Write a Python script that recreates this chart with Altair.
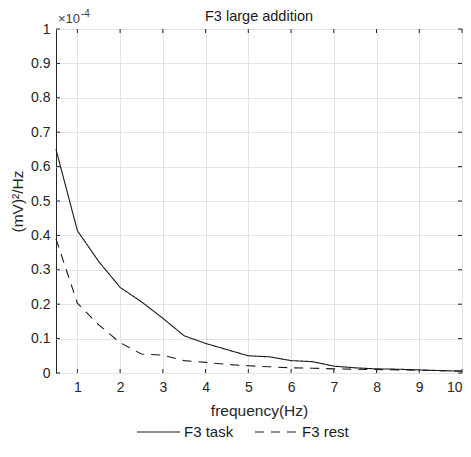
import altair as alt
import pandas as pd

# Frequency (Hz) and power spectral density (x 1e-4 (mV)^2/Hz)
freq = [0.5, 1, 1.5, 2, 2.5, 3, 3.5, 4, 4.5, 5, 5.5, 6, 6.5, 7, 7.5, 8, 8.5, 9, 9.5, 10]
task = [0.65, 0.414, 0.324, 0.249, 0.207, 0.159, 0.108, 0.086, 0.068, 0.05, 0.047,
        0.036, 0.033, 0.02, 0.015, 0.012, 0.011, 0.009, 0.007, 0.005]
rest = [0.39, 0.203, 0.14, 0.088, 0.055, 0.052, 0.036, 0.031, 0.025, 0.021, 0.018,
        0.015, 0.014, 0.012, 0.011, 0.01, 0.009, 0.008, 0.007, 0.006]
series_names = ["F3 task", "F3 rest"]
x_ticks = [1, 2, 3, 4, 5, 6, 7, 8, 9, 10]
y_ticks = [0, 0.1, 0.2, 0.3, 0.4, 0.5, 0.6, 0.7, 0.8, 0.9, 1]
title_text = "F3 large addition"
x_title = "frequency(Hz)"
y_title = "(mV)²/Hz"
exponent_base = "×10"
exponent_power = "-4"

rows = []
for f, v in zip(freq, task):
    rows.append({"freq": f, "value": v, "series": series_names[0]})
for f, v in zip(freq, rest):
    rows.append({"freq": f, "value": v, "series": series_names[1]})
df = pd.DataFrame(rows)

W, H = 406, 344
FONT = "Liberation Sans"
DARK = "#262626"
LINE = "#1a1a1a"
xs = alt.Scale(domain=[0.5, 10], nice=False, zero=False)
ys = alt.Scale(domain=[0, 1], nice=False)
dash_scale = alt.Scale(domain=series_names, range=[[1, 0], [9, 7]])

x_axis = alt.Axis(values=x_ticks, title=x_title, grid=True, ticks=False,
                  domain=False, labelPadding=7, titlePadding=9,
                  format="d", labelFlush=True, labelOverlap=False)
y_axis = alt.Axis(values=y_ticks, title=y_title, grid=True, ticks=False,
                  domain=False, labelPadding=6, titlePadding=5,
                  labelOverlap=False, tickCount=11,
                  labelExpr="format(datum.value, '~g')")

lines = alt.Chart(df).mark_line(strokeWidth=1.1, color=LINE).encode(
    x=alt.X("freq:Q", scale=xs, axis=x_axis),
    y=alt.Y("value:Q", scale=ys, axis=y_axis),
    strokeDash=alt.StrokeDash("series:N", scale=dash_scale, legend=None),
    detail="series:N",
)

xt = pd.DataFrame({"freq": x_ticks})
yt = pd.DataFrame({"value": y_ticks})
tick_bottom = alt.Chart(xt).mark_rule(color=DARK).encode(
    x=alt.X("freq:Q", scale=xs, axis=x_axis), y=alt.value(H), y2=alt.value(H - 4))
tick_top = alt.Chart(xt).mark_rule(color=DARK).encode(
    x=alt.X("freq:Q", scale=xs, axis=x_axis), y=alt.value(0), y2=alt.value(4))
tick_left = alt.Chart(yt).mark_rule(color=DARK).encode(
    y=alt.Y("value:Q", scale=ys, axis=y_axis), x=alt.value(0), x2=alt.value(4))
tick_right = alt.Chart(yt).mark_rule(color=DARK).encode(
    y=alt.Y("value:Q", scale=ys, axis=y_axis), x=alt.value(W), x2=alt.value(W - 4))

# legend (below the x-axis title), built from the series names
legend_df = pd.DataFrame({"series": series_names})
LEG_Y = 403
leg_layers = []
for i, (x0, xl) in enumerate([(81, 128), (199, 246)]):
    base = alt.Chart(legend_df).transform_filter(
        alt.datum.series == series_names[i])
    leg_layers.append(base.mark_rule(strokeWidth=1.1, color=LINE).encode(
        strokeDash=alt.StrokeDash("series:N", scale=dash_scale, legend=None),
        x=alt.value(x0), x2=alt.value(x0 + 43), y=alt.value(LEG_Y)))
    leg_layers.append(base.mark_text(
        align="left", baseline="middle", font=FONT, fontSize=15, color=LINE
    ).encode(text="series:N", x=alt.value(xl), y=alt.value(LEG_Y)))

expo1 = alt.Chart(pd.DataFrame({"s": [exponent_base]})).mark_text(
    align="left", baseline="alphabetic", font=FONT, fontSize=13, color="#404040"
).encode(text="s:N", x=alt.value(2), y=alt.value(-6))
expo2 = alt.Chart(pd.DataFrame({"s": [exponent_power]})).mark_text(
    align="left", baseline="alphabetic", font=FONT, fontSize=10, color="#404040"
).encode(text="s:N", x=alt.value(25), y=alt.value(-12))

ttl = alt.Chart(pd.DataFrame({"s": [title_text]})).mark_text(
    align="center", baseline="alphabetic", font=FONT, fontSize=14.5, color=LINE
).encode(text="s:N", x=alt.value(W / 2), y=alt.value(-8))

chart = alt.layer(lines, tick_bottom, tick_top, tick_left, tick_right,
                  *leg_layers, expo1, expo2, ttl).properties(
    width=W, height=H,
    autosize=alt.AutoSizeParams(type="none"),
    padding={"left": 48, "top": 21, "right": 1, "bottom": 70},
).configure_view(
    stroke=DARK, strokeWidth=1
).configure_axis(
    gridColor="#e3e3e3", gridWidth=1, labelFont=FONT, titleFont=FONT,
    labelFontSize=14, titleFontSize=15.5, labelColor="#262626", titleColor="#262626",
    titleFontWeight="normal"
)

chart.save("out.html", embed_options={"renderer": "svg", "actions": False})
